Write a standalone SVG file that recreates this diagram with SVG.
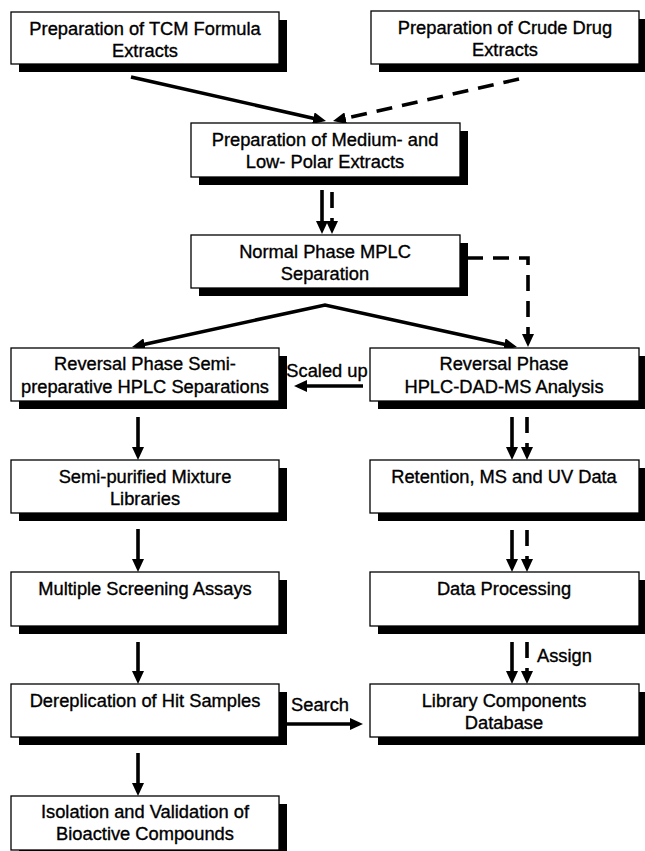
<svg xmlns="http://www.w3.org/2000/svg" width="645" height="851" viewBox="0 0 645 851">
<defs>
<style>
.box{fill:#fff;stroke:#000;stroke-width:1.3}
.sh{fill:#000}
.t{font-family:"Liberation Sans",Arial,sans-serif;font-size:18.3px;fill:#000;stroke:#000;stroke-width:0.35;text-anchor:middle}
.lb{font-family:"Liberation Sans",Arial,sans-serif;font-size:18.3px;fill:#000;stroke:#000;stroke-width:0.35}
.c{fill:none;stroke:#000;stroke-width:3.6}
.d{stroke-dasharray:16 10}
</style>
<marker id="ah" markerUnits="userSpaceOnUse" markerWidth="14" markerHeight="12" viewBox="0 0 14 12" refX="1" refY="6" orient="auto-start-reverse">
<path d="M0,0 L13,6 L0,12 z" fill="#000"/>
</marker>
</defs>
<rect width="645" height="851" fill="#fff"/>

<g id="connectors">
<path class="c" d="M131,77 L314.3,118.4" marker-end="url(#ah)"/>
<path class="c d" d="M519,79 L344.7,118.4" marker-end="url(#ah)"/>
<path class="c" d="M322,190 L322,222" marker-end="url(#ah)"/>
<path class="c d" d="M332,192 L332,222" marker-end="url(#ah)"/>
<path class="c" d="M143.7,344.4 L325,305 L505.3,344.4" stroke-linejoin="miter" marker-start="url(#ah)" marker-end="url(#ah)"/>
<path class="c d" d="M467,258 L528,258 L528,335" marker-end="url(#ah)"/>
<path class="c" d="M363,386 L306,386" marker-end="url(#ah)"/>
<path class="c" d="M138,417 L138,448" marker-end="url(#ah)"/>
<path class="c" d="M138,529 L138,560" marker-end="url(#ah)"/>
<path class="c" d="M138,642 L138,672" marker-end="url(#ah)"/>
<path class="c" d="M138,753 L138,784" marker-end="url(#ah)"/>
<path class="c" d="M512,417 L512,448" marker-end="url(#ah)"/>
<path class="c d" d="M527,417 L527,448" marker-end="url(#ah)"/>
<path class="c" d="M512,530 L512,560" marker-end="url(#ah)"/>
<path class="c d" d="M527,530 L527,560" marker-end="url(#ah)"/>
<path class="c" d="M512,642 L512,672" marker-end="url(#ah)"/>
<path class="c d" d="M527,642 L527,672" marker-end="url(#ah)"/>
<path class="c" d="M287,724 L351,724" marker-end="url(#ah)"/>
<text class="lb" x="327" y="377" text-anchor="middle">Scaled up</text>
<text class="lb" x="320" y="711" text-anchor="middle">Search</text>
<text class="lb" x="537" y="662">Assign</text>
</g>

<g id="tcm"><rect class="sh" x="19" y="20" width="268" height="52"/><rect class="box" x="11" y="12" width="268" height="52"/>
<text class="t" x="145" y="35">Preparation of TCM Formula</text><text class="t" x="145" y="57">Extracts</text></g>

<g id="crude"><rect class="sh" x="379" y="19" width="268" height="53"/><rect class="box" x="371" y="11" width="268" height="53"/>
<text class="t" x="505" y="34">Preparation of Crude Drug</text><text class="t" x="505" y="56">Extracts</text></g>

<g id="medium"><rect class="sh" x="199" y="131" width="269" height="54"/><rect class="box" x="191" y="123" width="269" height="54"/>
<text class="t" x="325" y="146">Preparation of Medium- and</text><text class="t" x="325" y="168">Low- Polar Extracts</text></g>

<g id="normal"><rect class="sh" x="199" y="243" width="269" height="53"/><rect class="box" x="191" y="235" width="269" height="53"/>
<text class="t" x="325" y="258">Normal Phase MPLC</text><text class="t" x="325" y="280">Separation</text></g>

<g id="rpsemi"><rect class="sh" x="19" y="356" width="268" height="53"/><rect class="box" x="11" y="348" width="268" height="53"/>
<text class="t" x="145" y="370">Reversal  Phase Semi-</text><text class="t" x="145" y="393">preparative HPLC Separations</text></g>

<g id="rphplc"><rect class="sh" x="378" y="356" width="269" height="53"/><rect class="box" x="370" y="348" width="269" height="53"/>
<text class="t" x="504" y="370">Reversal  Phase</text><text class="t" x="504" y="393">HPLC-DAD-MS Analysis</text></g>

<g id="semipurified"><rect class="sh" x="19" y="468" width="268" height="53"/><rect class="box" x="11" y="460" width="268" height="53"/>
<text class="t" x="145" y="483">Semi-purified Mixture</text><text class="t" x="145" y="505">Libraries</text></g>

<g id="retention"><rect class="sh" x="378" y="468" width="269" height="53"/><rect class="box" x="370" y="460" width="269" height="53"/>
<text class="t" x="504" y="483">Retention, MS and UV Data</text></g>

<g id="multiple"><rect class="sh" x="19" y="580" width="268" height="54"/><rect class="box" x="11" y="572" width="268" height="54"/>
<text class="t" x="145" y="595">Multiple Screening Assays</text></g>

<g id="dataprocessing"><rect class="sh" x="378" y="580" width="269" height="54"/><rect class="box" x="370" y="572" width="269" height="54"/>
<text class="t" x="504" y="595">Data Processing</text></g>

<g id="dereplication"><rect class="sh" x="19" y="692" width="268" height="53"/><rect class="box" x="11" y="684" width="268" height="53"/>
<text class="t" x="145" y="707">Dereplication of Hit Samples</text></g>

<g id="library"><rect class="sh" x="378" y="692" width="269" height="53"/><rect class="box" x="370" y="684" width="269" height="53"/>
<text class="t" x="504" y="707">Library Components</text><text class="t" x="504" y="729">Database</text></g>

<g id="isolation"><rect class="sh" x="19" y="804" width="268" height="54"/><rect class="box" x="11" y="796" width="268" height="54"/>
<text class="t" x="145" y="818">Isolation and Validation of</text><text class="t" x="145" y="840">Bioactive Compounds</text></g>
</svg>
